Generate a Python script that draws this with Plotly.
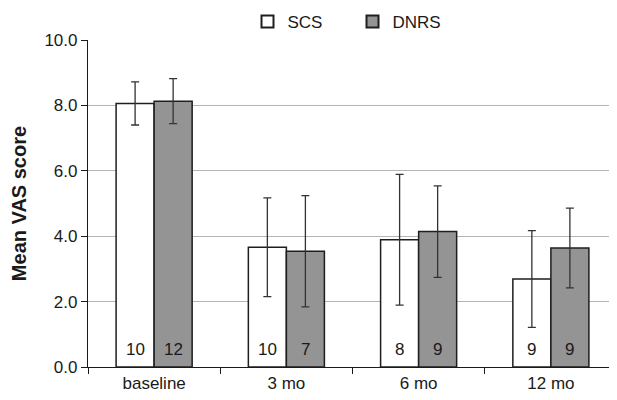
import plotly.graph_objects as go

categories = ["baseline", "3 mo", "6 mo", "12 mo"]
scs_mean = [8.06, 3.66, 3.89, 2.69]
scs_sd = [0.66, 1.51, 2.00, 1.48]
scs_n = [10, 10, 8, 9]
dnrs_mean = [8.13, 3.54, 4.14, 3.64]
dnrs_sd = [0.69, 1.70, 1.40, 1.22]
dnrs_n = [12, 7, 9, 9]
y_ticks = [0, 2, 4, 6, 8, 10]

FONT = "Liberation Sans, Arial, sans-serif"
# page body has an 8px margin; compensate so the plot lands where the reference has it
L, R, T, B = 80, 8, 32, 41
W, H = 617, 400
BARGAP = 0.425

fig = go.Figure()
fig.add_trace(go.Bar(
    name="SCS", x=categories, y=scs_mean,
    marker=dict(color="white", line=dict(color="#1e1e1e", width=1.5)),
    error_y=dict(type="data", array=scs_sd, visible=True, color="#333333", thickness=1.3, width=4),
))
fig.add_trace(go.Bar(
    name="DNRS", x=categories, y=dnrs_mean,
    marker=dict(color="#949494", line=dict(color="#1e1e1e", width=1.5)),
    error_y=dict(type="data", array=dnrs_sd, visible=True, color="#333333", thickness=1.3, width=4),
))

# n labels at bottom of bars
cat_px = (W - L - R) / len(categories)
bar_px = cat_px * (1 - BARGAP) / 2
for i in range(len(categories)):
    for n, sgn in ((scs_n[i], -1), (dnrs_n[i], 1)):
        fig.add_annotation(x=i, y=0, xref="x", yref="y", text=str(n), showarrow=False,
                           xshift=sgn * bar_px / 2, yanchor="bottom", yshift=6,
                           font=dict(family=FONT, size=17, color="#1a1a1a"))

fig.update_layout(
    width=W, height=H,
    margin=dict(l=L, r=R, t=T, b=B, autoexpand=False),
    paper_bgcolor="white", plot_bgcolor="white",
    barmode="group", bargap=BARGAP, bargroupgap=0,
    font=dict(family=FONT, size=17, color="#1a1a1a"),
    showlegend=True,
    legend=dict(orientation="h", x=0.5, xanchor="center", xref="paper",
                y=1.0, yanchor="bottom", yref="paper",
                entrywidth=60, entrywidthmode="pixels",
                font=dict(size=17), itemsizing="constant", traceorder="normal"),
    xaxis=dict(showline=True, linecolor="#1a1a1a", linewidth=1.2, ticks="outside",
               tickson="boundaries", ticklen=6, tickcolor="#1a1a1a", showgrid=False,
               tickfont=dict(size=17), automargin=False),
    yaxis=dict(range=[0, 10], tickvals=y_ticks, tickformat=".1f", showline=True,
               linecolor="#1a1a1a", linewidth=1.2, ticks="outside", ticklen=6,
               tickcolor="#1a1a1a", showgrid=True, gridcolor="#b4b4b4", gridwidth=1,
               zeroline=False, tickfont=dict(size=17), automargin=False,
               title=dict(text="<b>Mean VAS score</b>", font=dict(size=20), standoff=14)),
)

fig.write_html("out.html")
